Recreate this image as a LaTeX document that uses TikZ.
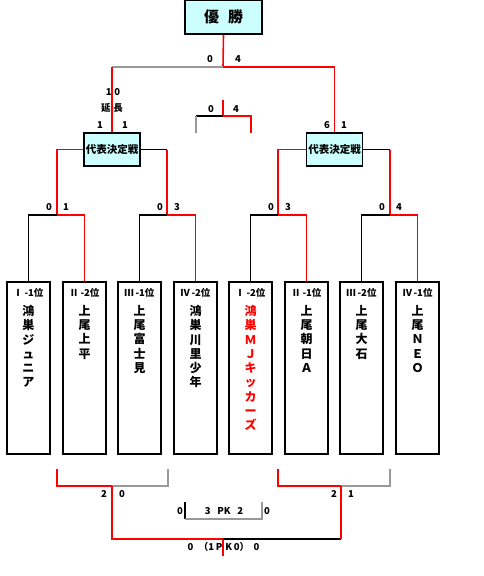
\documentclass[tikz,border=0pt]{standalone}
\usepackage{fontspec}
\setmainfont{Noto Sans CJK JP}
\definecolor{boxfill}{HTML}{CCFFFF}
\definecolor{wred}{HTML}{FF0000}
\definecolor{lgray}{HTML}{999999}
\begin{document}
\begin{tikzpicture}[x=1pt,y=-1pt,
  redline/.style={draw=wred,line width=1.6pt},
  blkline/.style={draw=black,line width=1.1pt},
  grayline/.style={draw=lgray,line width=1.1pt},
  titlebox/.style={draw=black,line width=1.6pt,fill=boxfill,inner sep=0pt},
  teambox/.style={draw=black,line width=1.6pt,minimum width=43pt,minimum height=172pt,inner sep=0pt,anchor=north},
  teamtxt/.style={anchor=north,align=center,font=\fontsize{12}{14.3}\selectfont\bfseries,inner sep=0pt},
  hdr/.style={font=\fontsize{9.5}{11}\selectfont\bfseries,inner sep=0pt},
  score/.style={font=\fontsize{9.5}{11}\selectfont\bfseries,inner sep=0pt}
]
\useasboundingbox (0,0) rectangle (484,576);

% final box
\node[titlebox,minimum width=77pt,minimum height=34pt,font=\fontsize{15}{15}\selectfont\bfseries] (win) at (223.5,17) {優\hspace{0.6em}勝};
% semifinal boxes
\node[titlebox,minimum width=56pt,minimum height=33pt,font=\fontsize{10.5}{11}\selectfont\bfseries] (semiL) at (112,149.5) {代表決定戦};
\node[titlebox,minimum width=56pt,minimum height=33pt,font=\fontsize{10.5}{11}\selectfont\bfseries] (semiR) at (334.5,149.5) {代表決定戦};

% team boxes and headers
\foreach \i/\x/\h in {1/28.5/Ⅰ\,-1位,2/84.5/Ⅱ\,-2位,3/139.5/Ⅲ\,-1位,4/195.5/Ⅳ\,-2位,5/250.5/Ⅰ\,-2位,6/306.5/Ⅱ\,-1位,7/361.5/Ⅲ\,-2位,8/417.5/Ⅳ\,-1位}{
  \node[teambox] (t\i) at (\x,281) {};
  \node[hdr] (h\i) at (\x,293) {\h};
}
\node[teamtxt] (t1txt) at (28.5,305) {鴻\\巣\\ジ\\ュ\\ニ\\ア};
\node[teamtxt] (t2txt) at (84.5,305) {上\\尾\\上\\平};
\node[teamtxt] (t3txt) at (139.5,305) {上\\尾\\富\\士\\見};
\node[teamtxt] (t4txt) at (195.5,305) {鴻\\巣\\川\\里\\少\\年};
\node[teamtxt,text=wred] (t5txt) at (250.5,305) {鴻\\巣\\Ｍ\\Ｊ\\キ\\ッ\\カ\\ー\\ズ};
\node[teamtxt] (t6txt) at (306.5,305) {上\\尾\\朝\\日\\Ａ};
\node[teamtxt] (t7txt) at (361.5,305) {上\\尾\\大\\石};
\node[teamtxt] (t8txt) at (417.5,305) {上\\尾\\Ｎ\\Ｅ\\Ｏ};

% junction coordinates
\coordinate (j0) at (223,67);
\coordinate (jL) at (112,67);
\coordinate (jR) at (334.5,67);
\coordinate (a1) at (57,149.5);   \coordinate (a1b) at (57,215);
\coordinate (a2) at (167,149.5);  \coordinate (a2b) at (167,215);
\coordinate (a3) at (278,149.5);  \coordinate (a3b) at (278,215);
\coordinate (a4) at (390,149.5);  \coordinate (a4b) at (390,215);
\foreach \i/\x in {1/28.5,2/84.5,3/139.5,4/195.5,5/250.5,6/306.5,7/361.5,8/417.5}{
  \coordinate (u\i) at (\x,215);
}

% top
\draw[redline] (win.south) -- (j0);
\draw[grayline] (jL) -- (j0);
\draw[redline] (j0) -- (jR);
\draw[redline] (jL) -- (semiL.north);
\draw[redline] (jR) -- (semiR.north);

% semis to pairs
\draw[redline] (semiL.west) -- (a1) -- (a1b);
\draw[blkline] (semiL.east) -- (a2);
\draw[redline] (a2) -- (a2b);
\draw[redline] (semiR.west) -- (a3) -- (a3b);
\draw[blkline] (semiR.east) -- (a4);
\draw[redline] (a4) -- (a4b);

% first-round brackets
\draw[blkline] (t1.north) -- (u1) -- (a1b);
\draw[redline] (a1b) -- (u2) -- (t2.north);
\draw[blkline] (t3.north) -- (u3) -- (a2b);
\draw[redline] (a2b) -- (u4) -- (t4.north);
\draw[blkline] (t5.north) -- (u5) -- (a3b);
\draw[redline] (a3b) -- (u6) -- (t6.north);
\draw[blkline] (t7.north) -- (u7) -- (a4b);
\draw[redline] (a4b) -- (u8) -- (t8.north);

% small bracket in the middle
\coordinate (m0) at (223,100); \coordinate (m1) at (223,116);
\coordinate (m2) at (196,116); \coordinate (m3) at (196,133);
\coordinate (m4) at (251,116); \coordinate (m5) at (251,133);
\draw[redline] (m0) -- (m1);
\draw[blkline] (m2) -- (m1);
\draw[redline] (m1) -- (m4) -- (m5);
\draw[grayline] (m2) -- (m3);

% bottom brackets
\coordinate (b1) at (57,469);  \coordinate (b1b) at (57,486);
\coordinate (b2) at (112,486); \coordinate (b3) at (168,486); \coordinate (b3t) at (168,469);
\coordinate (b4) at (278,469); \coordinate (b4b) at (278,486);
\coordinate (b5) at (341,486); \coordinate (b6) at (390,486); \coordinate (b6t) at (390,469);
\coordinate (c1) at (112,539); \coordinate (c2) at (223,539); \coordinate (c3) at (341,539);
\coordinate (c4) at (223,556);
\draw[redline] (b1) -- (b1b) -- (b2);
\draw[grayline] (b2) -- (b3) -- (b3t);
\draw[redline] (b4) -- (b4b) -- (b5);
\draw[grayline] (b5) -- (b6) -- (b6t);
\draw[redline] (b2) -- (c1) -- (c2);
\draw[blkline] (c2) -- (c3);
\draw[redline] (c3) -- (b5);
\draw[redline] ([yshift=-1pt]c2) -- (c4);

% PK bracket
\coordinate (p1) at (185,502); \coordinate (p2) at (185,519);
\coordinate (p3) at (262,519); \coordinate (p4) at (262,502);
\draw[blkline] (p1) -- (p2);
\draw[grayline] (p2) -- (p3) -- (p4);

% scores
\node[score] (s01) at (210,59) {0};
\node[score] (s02) at (238,59) {4};
\node[score] (s03) at (113,92) {1\hspace{0.3em}0};
\node[score] (s04) at (112,108) {延\hspace{0.3em}長};
\node[score] (s05) at (100,125) {1};
\node[score] (s06) at (125,125) {1};
\node[score] (s07) at (211,109) {0};
\node[score] (s08) at (236,109) {4};
\node[score] (s09) at (327,125) {6};
\node[score] (s10) at (344,125) {1};
\node[score] (s11) at (49,207) {0};
\node[score] (s12) at (66,207) {1};
\node[score] (s13) at (160,207) {0};
\node[score] (s14) at (177,207) {3};
\node[score] (s15) at (271,207) {0};
\node[score] (s16) at (288,207) {3};
\node[score] (s17) at (382,207) {0};
\node[score] (s18) at (399,207) {4};
\node[score] (s19) at (104,494) {2};
\node[score] (s20) at (122,494) {0};
\node[score] (s21) at (334,494) {2};
\node[score] (s22) at (351,494) {1};
\node[score] (s23) at (180,511) {0};
\node[score] (s24) at (224,511) {3\hspace{0.7em}PK\hspace{0.7em}2};
\node[score] (s25) at (267,511) {0};
\node[score] (s26) at (190.5,547) {0};
\node[score] (s27) at (224,547) {（1\,P\,\,K\,0）};
\node[score] (s28) at (256.5,547) {0};
\end{tikzpicture}
\end{document}
